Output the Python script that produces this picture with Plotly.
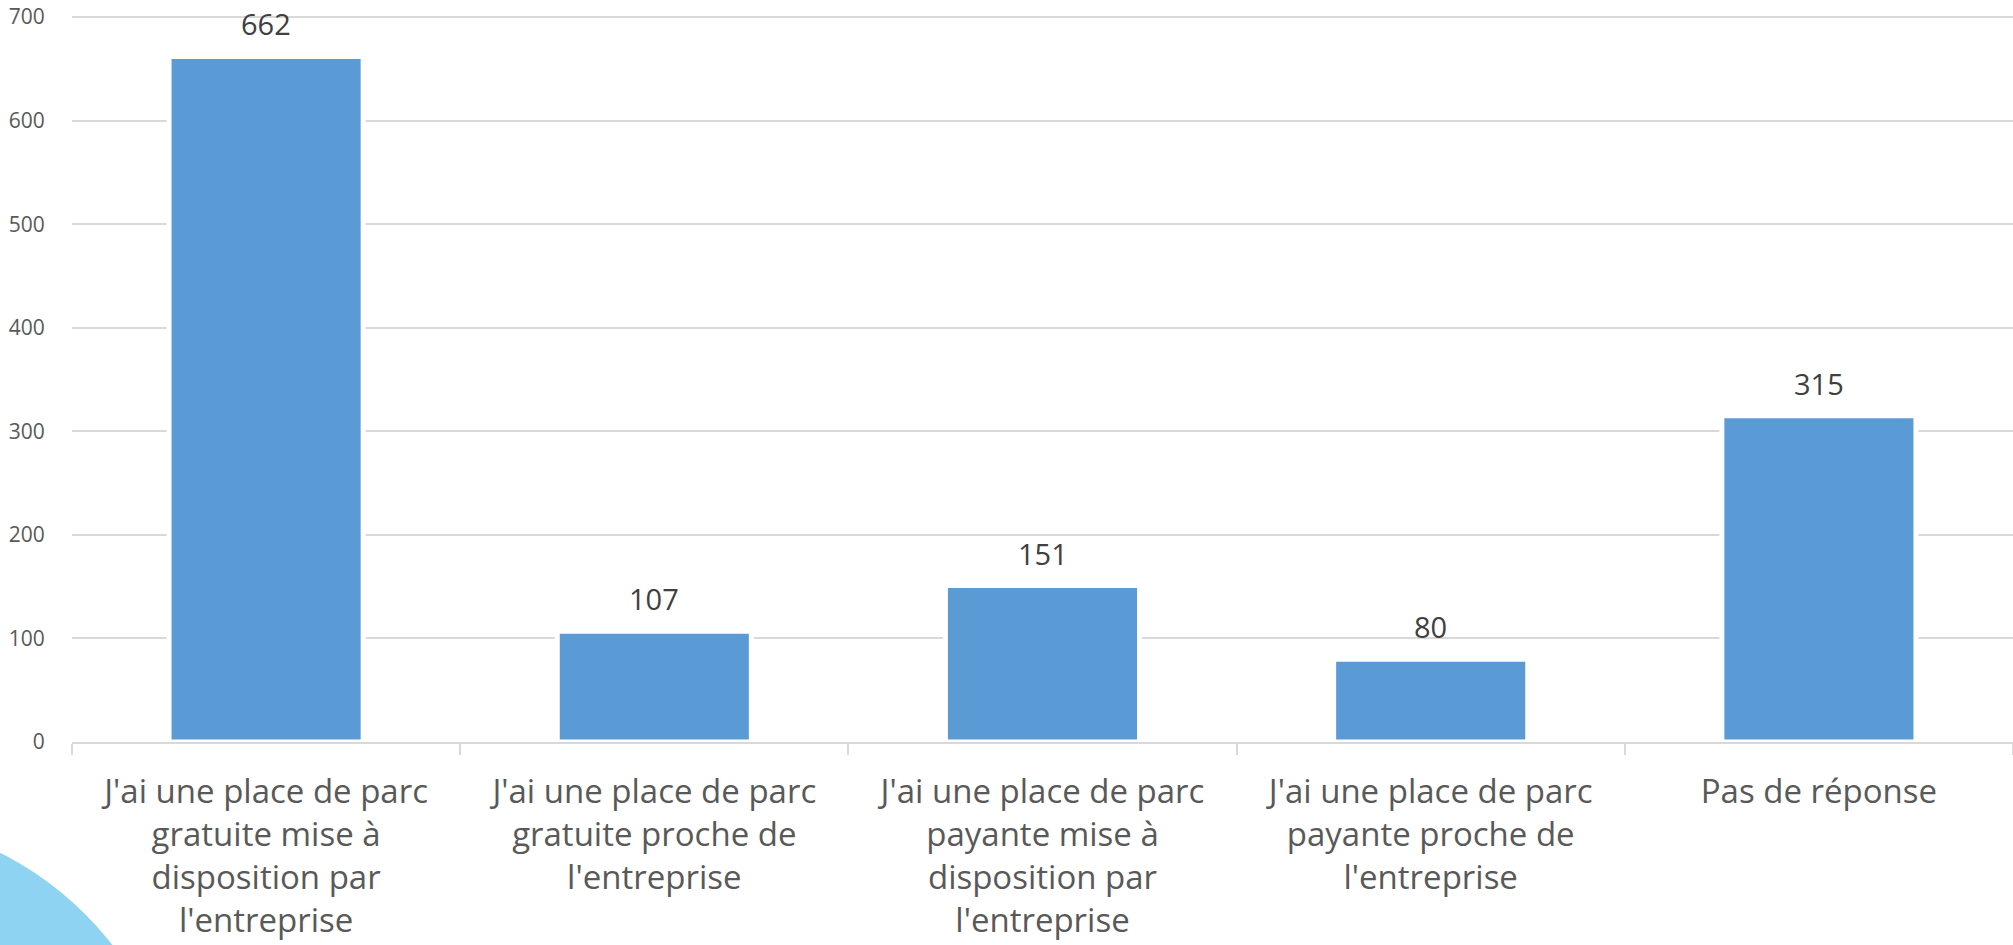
import plotly.graph_objects as go

categories = [
    "J'ai une place de parc<br>gratuite mise à<br>disposition par<br>l'entreprise",
    "J'ai une place de parc<br>gratuite proche de<br>l'entreprise",
    "J'ai une place de parc<br>payante mise à<br>disposition par<br>l'entreprise",
    "J'ai une place de parc<br>payante proche de<br>l'entreprise",
    "Pas de réponse",
]
values = [662, 107, 151, 80, 315]
y_ticks = [0, 100, 200, 300, 400, 500, 600, 700]

W, H = 2013, 945
ML, MR, MT, MB = 72, 0, 16, 203
pw = W - ML - MR
ph = H - MT - MB

FONT = "Open Sans"

fig = go.Figure()
fig.add_trace(go.Bar(
    x=categories,
    y=values,
    width=0.5,
    marker=dict(color="#5b9bd5", line=dict(color="#ffffff", width=5)),
    hoverinfo="x+y",
))

for c, v in zip(categories, values):
    fig.add_annotation(
        x=c, y=v, xref="x", yref="y",
        text=str(v), showarrow=False,
        yanchor="bottom", yshift=11,
        font=dict(family=FONT, size=29, color="#404040"),
    )

# decorative circle in the lower-left corner (pixel coords -> paper)
cx, cy, r = -150, 1150, 333
fig.add_shape(
    type="circle", xref="paper", yref="paper", layer="below",
    x0=(cx - r - ML) / pw, x1=(cx + r - ML) / pw,
    y0=(H - MB - (cy + r)) / ph, y1=(H - MB - (cy - r)) / ph,
    fillcolor="#8ed4f2", line=dict(width=0),
)

fig.update_layout(
    width=W, height=H,
    margin=dict(l=ML, r=MR, t=MT, b=MB, pad=0, autoexpand=False),
    paper_bgcolor="white", plot_bgcolor="white",
    showlegend=False,
    bargap=0.5,
    font=dict(family=FONT, color="#595959"),
)
fig.update_xaxes(
    automargin=False,
    showline=True, linecolor="#d9d9d9", linewidth=1.5,
    ticks="outside", tickson="boundaries", ticklen=11,
    tickcolor="#d9d9d9", tickwidth=1.5,
    showgrid=False,
    tickfont=dict(family=FONT, size=33, color="#595959"),
    ticklabelstandoff=20,
)
fig.update_yaxes(
    automargin=False,
    range=[0, 701], tickvals=y_ticks,
    showgrid=True, gridcolor="#d9d9d9", gridwidth=1.5,
    zeroline=False, showline=False,
    ticks="outside", ticklen=22, tickcolor="rgba(0,0,0,0)",
    tickfont=dict(family=FONT, size=21, color="#595959"),
    ticklabeloverflow="allow",
)

# remove the default 8px page margin so the figure fills the window exactly
fig.write_html(
    "out.html",
    config={"displayModeBar": False},
    post_script="document.body.style.margin='0';document.body.style.overflow='hidden';",
)
